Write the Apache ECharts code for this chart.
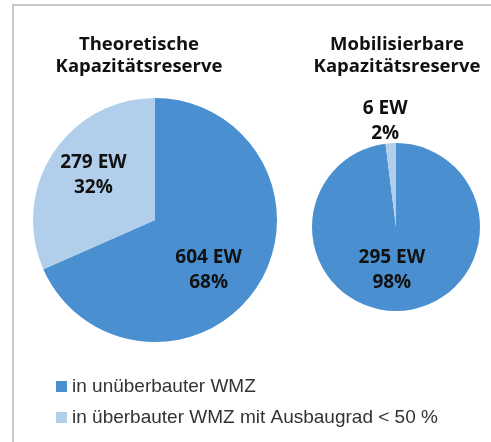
<!DOCTYPE html>
<html>
<head>
<meta charset="utf-8">
<script src="https://cdn.jsdelivr.net/npm/echarts@6/dist/echarts.min.js"></script>
<style>
  html, body { margin: 0; padding: 0; background: #fff; }
  #chart { width: 491px; height: 442px; }
</style>
</head>
<body>
<div id="chart"></div>
<script>
// Kategorien (Legende)
const categories = ['in unüberbauter WMZ', 'in überbauter WMZ mit Ausbaugrad < 50 %']
// Einwohner pro Kategorie
const theoretischValues = [604, 279]
const mobilisierbarValues = [295, 6]
const titles = ['Theoretische\nKapazitätsreserve', 'Mobilisierbare\nKapazitätsreserve']

const colors = ['#4a8fd0', '#b1cfeb']
const labelFont = 'Open Sans'

// Label-Text: "604 EW\n68%"
const labelText = (p) => `${p.value} EW\n${Math.round(p.percent)}%`

const baseLabel = {
  show: true,
  position: 'inside',
  formatter: labelText,
  fontFamily: labelFont,
  fontWeight: 'bold',
  fontSize: 19,
  lineHeight: 25,
  color: '#111'
}

const titleStyle = { fontFamily: labelFont, fontWeight: 'bold', fontSize: 18.5, lineHeight: 22, color: '#111' }

const toData = (values, offsets) => values.map((v, i) => ({
  name: categories[i],
  value: v,
  itemStyle: { color: colors[i] },
  label: { offset: offsets[i] }
}))

const chart = echarts.init(document.getElementById('chart'), null, { renderer: 'canvas' })

chart.setOption({
  animation: false,
  backgroundColor: '#fff',
  title: [
    { text: titles[0], left: 139, top: 34, padding: 0, textAlign: 'center', textStyle: titleStyle },
    { text: titles[1], left: 397, top: 34, padding: 0, textAlign: 'center', textStyle: titleStyle }
  ],
  legend: {
    orient: 'vertical',
    left: 51,
    top: 372,
    icon: 'rect',
    itemWidth: 11,
    itemHeight: 11,
    itemGap: 12,
    selectedMode: false,
    data: categories,
    textStyle: { fontFamily: 'Liberation Sans', fontSize: 19, color: '#333' }
  },
  graphic: [
    {
      type: 'polyline',
      shape: { points: [[13, 442], [13, 5], [491, 5]] },
      style: { stroke: '#c8c8c8', lineWidth: 2, fill: null }
    }
  ],
  series: [
    {
      type: 'pie',
      center: [155, 220],
      radius: 122,
      startAngle: 90,
      clockwise: true,
      silent: true,
      label: baseLabel,
      labelLine: { show: false },
      data: toData(theoretischValues, [[0, 15], [-8, -10]])
    },
    {
      type: 'pie',
      center: [396, 227],
      radius: 84,
      startAngle: 90,
      clockwise: true,
      silent: true,
      label: baseLabel,
      labelLine: { show: false },
      data: toData(mobilisierbarValues, [[-7, -2], [-8, -61]])
    }
  ]
})
</script>
</body>
</html>
